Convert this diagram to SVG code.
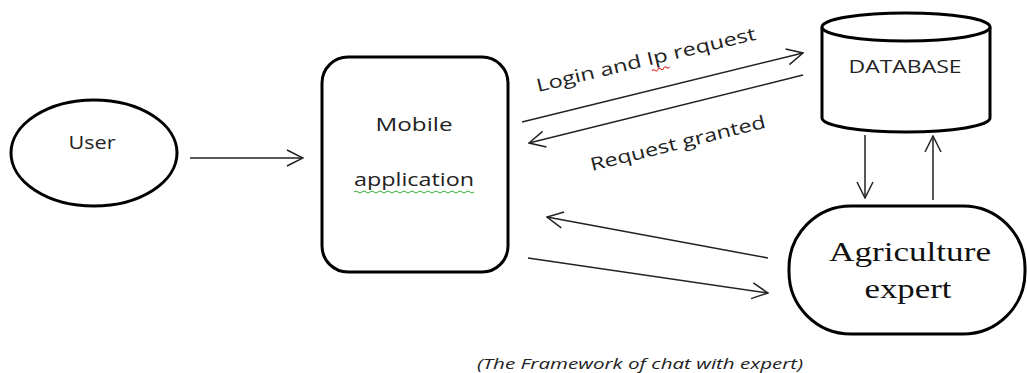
<svg xmlns="http://www.w3.org/2000/svg" width="1027" height="373" viewBox="0 0 1027 373">
<style>
.shape{fill:#fff;stroke:#000;stroke-width:3}
.conn{fill:none;stroke:#222;stroke-width:1.5}
.lbl{font-family:"Open Sans","Liberation Sans",sans-serif;fill:#222}
.serif{font-family:"Liberation Serif","DejaVu Serif",serif;fill:#111}
</style>
<defs>
<marker id="arr" viewBox="0 0 18 18" refX="17" refY="9" markerWidth="18" markerHeight="18" markerUnits="userSpaceOnUse" orient="auto">
<path d="M1,1 L17,9 L1,17" fill="none" stroke="#222" stroke-width="1.5"/>
</marker>
</defs>
<rect width="1027" height="373" fill="#fff"/>

<g id="user">
<ellipse class="shape" cx="94" cy="153" rx="83" ry="53"/>
<text class="lbl" x="92" y="149" font-size="18" text-anchor="middle" textLength="47" lengthAdjust="spacingAndGlyphs">User</text>
</g>

<g id="mobile">
<rect class="shape" x="322" y="57" width="186" height="215" rx="26"/>
<text class="lbl" x="414" y="131" font-size="19" text-anchor="middle" textLength="77" lengthAdjust="spacingAndGlyphs">Mobile</text>
<text class="lbl" x="414" y="186" font-size="19" text-anchor="middle" textLength="120" lengthAdjust="spacingAndGlyphs">application</text>
<path d="M354,192 q2,-2 4,0 t4,0 t4,0 t4,0 t4,0 t4,0 t4,0 t4,0 t4,0 t4,0 t4,0 t4,0 t4,0 t4,0 t4,0 t4,0 t4,0 t4,0 t4,0 t4,0 t4,0 t4,0 t4,0 t4,0 t4,0 t4,0 t4,0 t4,0 t4,0 t4,0" fill="none" stroke="#3a3" stroke-width="1"/>
</g>

<g id="database">
<path class="shape" d="M822,27 L822,118 A84,14 0 0 0 990,118 L990,27"/>
<ellipse class="shape" cx="906" cy="27" rx="84" ry="14"/>
<text class="lbl" x="905" y="73" font-size="18" text-anchor="middle" textLength="113" lengthAdjust="spacingAndGlyphs">DATABASE</text>
</g>

<g id="expert">
<rect class="shape" x="789" y="206" width="236" height="128" rx="62" ry="62"/>
<text class="serif" x="910" y="261" font-size="28" text-anchor="middle" textLength="162" lengthAdjust="spacingAndGlyphs">Agriculture</text>
<text class="serif" x="908" y="298" font-size="28" text-anchor="middle" textLength="87" lengthAdjust="spacingAndGlyphs">expert</text>
</g>

<g id="connectors">
<line class="conn" x1="190" y1="158" x2="303" y2="158" marker-end="url(#arr)"/>
<line class="conn" x1="522" y1="122" x2="803" y2="53" marker-end="url(#arr)"/>
<line class="conn" x1="803" y1="75" x2="529" y2="143" marker-end="url(#arr)"/>
<line class="conn" x1="768" y1="258" x2="547" y2="217" marker-end="url(#arr)"/>
<line class="conn" x1="528" y1="258" x2="768" y2="293" marker-end="url(#arr)"/>
<line class="conn" x1="865" y1="135" x2="865" y2="198" marker-end="url(#arr)"/>
<line class="conn" x1="933" y1="200" x2="933" y2="136" marker-end="url(#arr)"/>
<text class="lbl" x="538" y="92" font-size="18" transform="rotate(-13.5 538 92)" textLength="225" lengthAdjust="spacingAndGlyphs">Login and Ip request</text>
<path d="M652,71 q1.5,-2 3,0 t3,0 t3,0 t3,0 t3,0 t3,0" transform="rotate(-13.5 652 71)" fill="none" stroke="#d22" stroke-width="1"/>
<text class="lbl" x="592" y="171" font-size="18" transform="rotate(-14 592 171)" textLength="180" lengthAdjust="spacingAndGlyphs">Request granted</text>
</g>

<text class="lbl" x="477" y="369" font-size="15" font-style="italic" textLength="326" lengthAdjust="spacingAndGlyphs">(The Framework  of chat with expert)</text>
</svg>
